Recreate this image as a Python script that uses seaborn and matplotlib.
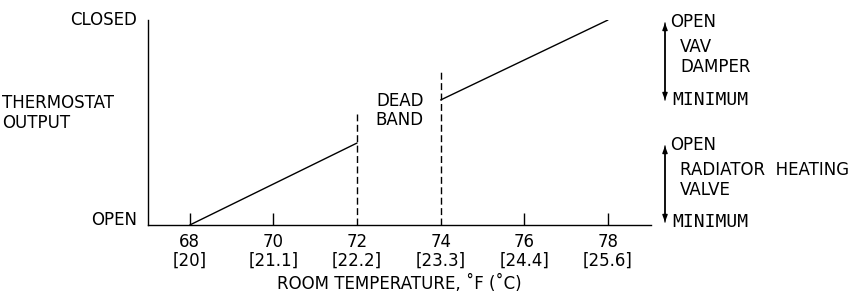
import numpy as np
import pandas as pd
import matplotlib
matplotlib.use("Agg")
import matplotlib.pyplot as plt
import seaborn as sns

# Values (thermostat output: 0 = OPEN, 1 = CLOSED)
heat_temps = [68, 72]
heat_output = [0.0, 0.40]
cool_temps = [74, 78]
cool_output = [0.61, 1.0]
band_temps = [72, 74]
band_tops = [0.54, 0.745]
tick_f = [68, 70, 72, 74, 76, 78]
tick_c = ["20", "21.1", "22.2", "23.3", "24.4", "25.6"]

sns.set_style("white")
plt.rcParams['font.family'] = ['DejaVu Sans']
plt.rcParams['text.color'] = 'black'
plt.rcParams['xtick.color'] = 'black'
plt.rcParams['axes.labelcolor'] = 'black'

fig = plt.figure(figsize=(8.58, 2.98), dpi=100)
ax = fig.add_axes([148 / 858, 1 - 225 / 298, (651 - 148) / 858, 205 / 298])

df = pd.DataFrame({
    'temp': heat_temps + cool_temps,
    'output': heat_output + cool_output,
    'segment': ['heat'] * 2 + ['cool'] * 2,
})
sns.lineplot(data=df, x='temp', y='output', units='segment', estimator=None,
             color='black', linewidth=1.0, ax=ax)

for t, top in zip(band_temps, band_tops):
    ax.plot([t, t], [0, top], color='black', linestyle=(0, (5, 2.5)), linewidth=1.0)

ax.set_xlim(67.0, 79.03)
ax.set_ylim(0, 1)
ax.set_xticks(tick_f)
ax.set_xticklabels([f"{f}\n[{c}]" for f, c in zip(tick_f, tick_c)], fontsize=12,
                   linespacing=1.0)
ax.tick_params(axis='x', bottom=True, direction='in', length=9, width=1.0,
               color='black', pad=6)
# the dead band lines stand in for the tick marks at 72 and 74
for tk, f in zip(ax.xaxis.get_major_ticks(), tick_f):
    if f in band_temps:
        tk.tick1line.set_visible(False)
ax.set_yticks([])
ax.set_ylabel("")
ax.set_xlabel("ROOM TEMPERATURE, ˚F (˚C)", fontsize=12, labelpad=4)
for side in ['top', 'right']:
    ax.spines[side].set_visible(False)
for side in ['left', 'bottom']:
    ax.spines[side].set_color('black')
    ax.spines[side].set_linewidth(1.0)

# left-side labels
fig.text(137 / 858, 1 - 20 / 298, "CLOSED", ha='right', va='center', fontsize=12)
fig.text(137 / 858, 1 - 220 / 298, "OPEN", ha='right', va='center', fontsize=12)
fig.text(2 / 858, 1 - 113 / 298, "THERMOSTAT\nOUTPUT", ha='left', va='center',
         fontsize=12, linespacing=1.1)
ax.text(73.02, 0.56, "DEAD\nBAND", ha='center', va='center', fontsize=12, linespacing=1.1)

# right-side legend with arrows
def side_arrow(y_top, y_bot, desc):
    for a, b in [(y_top, y_bot), (y_bot, y_top)]:
        fig.add_artist(matplotlib.patches.FancyArrowPatch(
            (665 / 858, 1 - a / 298), (665 / 858, 1 - b / 298),
            transform=fig.transFigure, arrowstyle='-|>,head_length=4,head_width=1.5',
            color='black', linewidth=1.0, shrinkA=0, shrinkB=0))
    fig.text(670 / 858, 1 - (y_top - 1) / 298, "OPEN", ha='left', va='center', fontsize=12)
    fig.text(680 / 858, 1 - (y_top + 34) / 298, desc, ha='left', va='center',
             fontsize=12, linespacing=1.1)
    fig.text(672 / 858, 1 - y_bot / 298, "MINIMUM", ha='left', va='center',
             fontsize=13, family='DejaVu Sans Mono')

side_arrow(23, 100, "VAV\nDAMPER")
side_arrow(146, 222, "RADIATOR  HEATING\nVALVE")

plt.savefig('out.png', dpi=100)
